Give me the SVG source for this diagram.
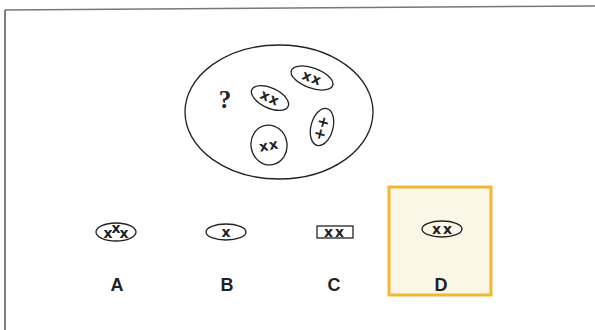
<svg xmlns="http://www.w3.org/2000/svg" width="595" height="330" viewBox="0 0 595 330">
<style>
.ol{fill:none;stroke:#222;stroke-width:1.3}
.x{font-family:"DejaVu Sans",sans-serif;font-weight:bold;font-size:14px;fill:#222;text-anchor:middle}
.p{font-family:"DejaVu Sans",sans-serif;font-weight:bold;font-size:15px;fill:#222;text-anchor:middle}
.lbl{font-family:"Liberation Sans",Arial,sans-serif;font-weight:bold;font-size:18px;fill:#222;text-anchor:middle}
</style>
<rect width="595" height="330" fill="#fff"/>
<g id="frame">
<line x1="5" y1="10" x2="595" y2="6" stroke="#777" stroke-width="1.5"/>
<line x1="5" y1="10" x2="5" y2="330" stroke="#555" stroke-width="1.5"/>
</g>
<g id="set">
<ellipse cx="279" cy="112" rx="94" ry="67" class="ol"/>
<text x="225" y="108" font-family="Liberation Serif,serif" font-weight="bold" font-size="25" fill="#222" text-anchor="middle">?</text>
<g transform="translate(312 78) rotate(20)"><ellipse rx="22" ry="10" class="ol"/><text class="x" y="4.5" letter-spacing="1">xx</text></g>
<g transform="translate(270 98) rotate(25)"><ellipse rx="20" ry="10" class="ol"/><text class="x" y="4.5" letter-spacing="1">xx</text></g>
<g transform="translate(322 127) rotate(15)"><ellipse rx="11" ry="19" class="ol"/><text class="p" y="0">+</text><text class="p" y="12">+</text></g>
<g transform="translate(269 145) rotate(-10)"><ellipse rx="18" ry="20" class="ol"/><text class="x" y="5" letter-spacing="1">xx</text></g>
</g>
<g id="A">
<ellipse cx="116" cy="232" rx="20" ry="9" class="ol"/>
<text class="x" x="108" y="238">x</text><text class="x" x="116" y="233">x</text><text class="x" x="124" y="238">x</text>
<text class="lbl" x="117" y="291">A</text>
</g>
<g id="B">
<ellipse cx="226" cy="232" rx="20" ry="8" class="ol"/>
<text class="x" x="226" y="236.5">x</text>
<text class="lbl" x="227" y="291">B</text>
</g>
<g id="C">
<rect x="317" y="226" width="36" height="12" class="ol"/>
<text class="x" x="335" y="236.5" letter-spacing="2">xx</text>
<text class="lbl" x="334" y="291">C</text>
</g>
<g id="D">
<rect x="389" y="187" width="102" height="108" fill="#fcf6e6" stroke="#f0b830" stroke-width="3"/>
<ellipse cx="442" cy="229" rx="20" ry="8" class="ol"/>
<text class="x" x="443" y="233.5" letter-spacing="2">xx</text>
<text class="lbl" x="441" y="291">D</text>
</g>
</svg>
